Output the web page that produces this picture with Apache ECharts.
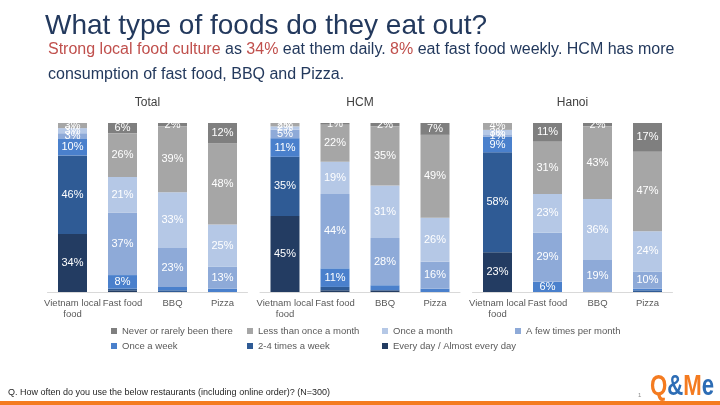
<!DOCTYPE html>
<html>
<head>
<meta charset="utf-8">
<script src="https://cdn.jsdelivr.net/npm/echarts@6/dist/echarts.min.js"></script>
<style>
html,body{margin:0;padding:0;background:#fff;}
#c{width:720px;height:405px;}
</style>
</head>
<body>
<div id="c"></div>
<script>
// ---------- data ----------
const categories = ['Vietnam local\nfood', 'Fast food', 'BBQ', 'Pizza'];
const panelTitles = ['Total', 'HCM', 'Hanoi'];
// stack order: bottom -> top
const seriesNames = ['Every day / Almost every day', '2-4 times a week', 'Once a week',
  'A few times per month', 'Once a month', 'Less than once a month', 'Never or rarely been there'];

// Total
const totalEveryDay  = [34, 1, 0, 0];
const totalTwoToFour = [46, 1, 1, 0];
const totalOnceWeek  = [10, 8, 2, 2];
const totalFewMonth  = [3, 37, 23, 13];
const totalOnceMonth = [3, 21, 33, 25];
const totalLessMonth = [3, 26, 39, 48];
const totalNever     = [0, 6, 2, 12];

// HCM
const hcmEveryDay  = [45, 1, 1, 0];
const hcmTwoToFour = [35, 2, 0, 0];
const hcmOnceWeek  = [11, 11, 3, 2];
const hcmFewMonth  = [5, 44, 28, 16];
const hcmOnceMonth = [2, 19, 31, 26];
const hcmLessMonth = [2, 22, 35, 49];
const hcmNever     = [0, 1, 2, 7];

// Hanoi
const hanoiEveryDay  = [23, 0, 0, 0];
const hanoiTwoToFour = [58, 0, 0, 1];
const hanoiOnceWeek  = [9, 6, 0, 1];
const hanoiFewMonth  = [1, 29, 19, 10];
const hanoiOnceMonth = [3, 23, 36, 24];
const hanoiLessMonth = [4, 31, 43, 47];
const hanoiNever     = [0, 11, 2, 17];

const panels = [
  [totalEveryDay, totalTwoToFour, totalOnceWeek, totalFewMonth, totalOnceMonth, totalLessMonth, totalNever],
  [hcmEveryDay, hcmTwoToFour, hcmOnceWeek, hcmFewMonth, hcmOnceMonth, hcmLessMonth, hcmNever],
  [hanoiEveryDay, hanoiTwoToFour, hanoiOnceWeek, hanoiFewMonth, hanoiOnceMonth, hanoiLessMonth, hanoiNever]
];

// ---------- style ----------
const FONT = '"Liberation Sans", Arial, Helvetica, sans-serif';
const colors = ['#233c62', '#2f5b95', '#4a80cc', '#8eaad8', '#b5c8e6', '#a6a6a6', '#7f7f7f'];
const gridLefts = [47.5, 260, 472.5];
const gridW = 200, gridTop = 123, gridH = 169;

const grids = [], xAxes = [], yAxes = [], series = [];
panels.forEach((pdata, p) => {
  // 100% stacked: normalise each bar by its total
  const sums = categories.map((c, i) => pdata.reduce((a, arr) => a + arr[i], 0));
  grids.push({left: gridLefts[p], top: gridTop, width: gridW, height: gridH, containLabel: false});
  xAxes.push({
    type: 'category', gridIndex: p, data: categories,
    axisLine: {lineStyle: {color: '#d9d9d9', width: 1}},
    axisTick: {show: false},
    axisLabel: {color: '#595959', fontSize: 9.5, fontFamily: FONT, interval: 0, margin: 6, lineHeight: 11}
  });
  yAxes.push({type: 'value', gridIndex: p, min: 0, max: 100, show: false});
  pdata.forEach((vals, s) => {
    series.push({
      type: 'bar', name: seriesNames[s], xAxisIndex: p, yAxisIndex: p, stack: 'p' + p,
      barWidth: 29,
      itemStyle: {color: colors[s]},
      data: vals.map((v, i) => ({
        value: v / sums[i] * 100,
        raw: v,
        label: {show: v > 0 && !(s < 3 && v < 5)}
      })),
      label: {
        position: 'inside', color: '#ffffff', fontSize: 11, fontFamily: FONT,
        formatter: (prm) => prm.data.raw + '%'
      },
      emphasis: {disabled: true},
      animation: false
    });
  });
});

// legend layout: two rows, four columns
const legendOrder = ['Never or rarely been there', 'Less than once a month', 'Once a month', 'A few times per month',
  'Once a week', '2-4 times a week', 'Every day / Almost every day'];
const legCols = [111, 247, 382, 515];
const legRows = [326, 341];
const legends = legendOrder.map((name, i) => ({
  data: [name], left: legCols[i % 4], top: legRows[Math.floor(i / 4)],
  itemWidth: 6, itemHeight: 6, icon: 'rect', padding: 0, itemGap: 0,
  selectedMode: false,
  textStyle: {color: '#595959', fontSize: 9.5, fontFamily: FONT}
}));

const graphics = [
  {type: 'text', left: 45, top: 12, style: {text: 'What type of foods do they eat out?', fill: '#23395d', font: '28px ' + FONT}},
  {type: 'text', left: 48, top: 42, style: {
    text: '{r|Strong local food culture} as {r|34%} eat them daily. {r|8%} eat fast food weekly. HCM has more',
    fill: '#23395d', font: '16px ' + FONT,
    rich: {r: {fill: '#c0504d', font: '16px ' + FONT}}
  }},
  {type: 'text', left: 48, top: 67, style: {text: 'consumption of fast food, BBQ and Pizza.', fill: '#23395d', font: '16px ' + FONT}},
  {type: 'text', left: 8, top: 388, style: {text: 'Q. How often do you use the below restaurants (including online order)? (N=300)', fill: '#262626', font: '9px ' + FONT}},
  {type: 'text', left: 638, top: 392, style: {text: '1', fill: '#8c8c8c', font: '6px ' + FONT}},
  {type: 'text', x: 650, y: 372, scaleX: 0.74, style: {
    text: '{o|Q}{b|&}{o|M}{b|e}', font: 'bold 30px ' + FONT,
    rich: {o: {fill: '#f47b20', font: 'bold 30px ' + FONT}, b: {fill: '#2d6db5', font: 'bold 30px ' + FONT}}
  }},
  {type: 'rect', left: 0, top: 401, shape: {width: 720, height: 4}, style: {fill: '#f47b20'}}
];
panelTitles.forEach((t, p) => {
  graphics.push({type: 'text', x: gridLefts[p] + gridW / 2, y: 103,
    style: {text: t, fill: '#404040', font: '12px ' + FONT, align: 'center', verticalAlign: 'middle'}});
});

const chart = echarts.init(document.getElementById('c'), null, {renderer: 'canvas'});
chart.setOption({
  animation: false,
  backgroundColor: '#ffffff',
  grid: grids, xAxis: xAxes, yAxis: yAxes, series: series,
  legend: legends,
  graphic: graphics
});
</script>
</body>
</html>
